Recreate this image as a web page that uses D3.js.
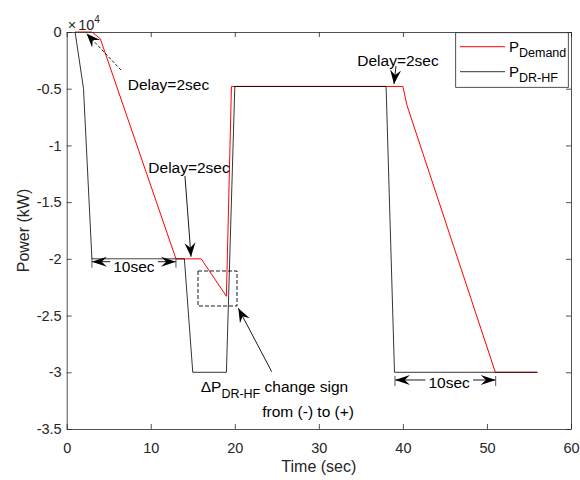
<!DOCTYPE html>
<html>
<head>
<meta charset="utf-8">
<script src="https://cdn.jsdelivr.net/npm/d3@7"></script>
<style>
body { margin: 0; background: #fff; }
text { font-family: "Liberation Sans", Arial, Helvetica, sans-serif; }
</style>
</head>
<body>
<div id="my_dataviz"></div>
<script>
// time (sec) / power (kW)
var timeDemand  = [1, 3, 4, 13, 16, 19, 19.6, 40, 40.5, 51, 56];
var powerDemand = [0, 0, -600, -20000, -20000, -23300, -4800, -4800, -6500, -30000, -30000];
var timeDRHF  = [1, 2, 3, 14, 15, 19, 20, 38, 39, 56];
var powerDRHF = [0, -5000, -20000, -20000, -30000, -30000, -4800, -4800, -30000, -30000];

var xTicks = [0, 10, 20, 30, 40, 50, 60];
var yTicks = [0, -5000, -10000, -15000, -20000, -25000, -30000, -35000];
var yTickLabels = ["0", "-0.5", "-1", "-1.5", "-2", "-2.5", "-3", "-3.5"];
var seriesNames = ["Demand", "DR-HF"];

var W = 580, H = 480;
var margin = {top: 32, right: 9, bottom: 51, left: 66.7};
var axisColor = "#262626";

var svg = d3.select("#my_dataviz")
  .append("svg")
    .attr("width", W)
    .attr("height", H);

var x = d3.scaleLinear().domain([0, 60]).range([margin.left, W - margin.right]);
var y = d3.scaleLinear().domain([-35000, 0]).range([H - margin.bottom, margin.top]);

// lines (demand first, DR-HF drawn on top)
var line = d3.line()
  .x(function(d) { return x(d[0]); })
  .y(function(d) { return y(d[1]); });

svg.append("path")
  .datum(d3.zip(timeDemand, powerDemand))
  .attr("fill", "none")
  .attr("stroke", "#ff0000")
  .attr("stroke-width", 1)
  .attr("d", line);

svg.append("path")
  .datum(d3.zip(timeDRHF, powerDRHF))
  .attr("fill", "none")
  .attr("stroke", "#000")
  .attr("stroke-width", 0.8)
  .attr("d", line);

// axes, ticks inside like matlab
function styleAxis(g) {
  g.select(".domain").attr("stroke", axisColor).attr("stroke-width", 0.8);
  g.selectAll(".tick line").attr("stroke", axisColor).attr("stroke-width", 0.8);
  g.selectAll(".tick text").attr("fill", axisColor).style("font-size", "14.5px")
    .style("font-family", '"Liberation Sans", Arial, sans-serif');
}

svg.append("g")
  .attr("transform", "translate(0," + y(-35000) + ")")
  .call(d3.axisBottom(x).tickValues(xTicks).tickSizeInner(-5).tickSizeOuter(0).tickPadding(14))
  .call(styleAxis);

svg.append("g")
  .attr("transform", "translate(0," + y(0) + ")")
  .call(d3.axisTop(x).tickValues(xTicks).tickSizeInner(-5).tickSizeOuter(0).tickFormat(""))
  .call(styleAxis);

svg.append("g")
  .attr("transform", "translate(" + x(0) + ",0)")
  .call(d3.axisLeft(y).tickValues(yTicks).tickSizeInner(-5).tickSizeOuter(0).tickPadding(5)
    .tickFormat(function(d, i) { return yTickLabels[i]; }))
  .call(styleAxis);

svg.append("g")
  .attr("transform", "translate(" + x(60) + ",0)")
  .call(d3.axisRight(y).tickValues(yTicks).tickSizeInner(-5).tickSizeOuter(0).tickFormat(""))
  .call(styleAxis);

// exponent label
var expo = svg.append("text")
  .attr("x", x(0) + 1)
  .attr("y", y(0) - 2)
  .attr("fill", axisColor)
  .style("font-size", "14.5px");
expo.append("tspan").text("\u00d7");
expo.append("tspan").text("10").attr("dx", 2);
expo.append("tspan").text("4").attr("dy", -7).style("font-size", "10px");

// axis labels
svg.append("text")
  .attr("x", (x(0) + x(60)) / 2)
  .attr("y", 472)
  .attr("text-anchor", "middle")
  .attr("fill", axisColor)
  .style("font-size", "16px")
  .text("Time (sec)");

svg.append("text")
  .attr("transform", "translate(29," + ((y(0) + y(-35000)) / 2) + ") rotate(-90)")
  .attr("text-anchor", "middle")
  .attr("fill", axisColor)
  .style("font-size", "16px")
  .text("Power (kW)");

// annotations
var ann = svg.append("g");

function head(x1, y1, x2, y2, len, hw) {
  var dx = x2 - x1, dy = y2 - y1, L = Math.sqrt(dx * dx + dy * dy);
  var ux = dx / L, uy = dy / L, nx = -uy, ny = ux;
  var bx = x2 - ux * len, by = y2 - uy * len;
  var mx = x2 - ux * len * 0.65, my = y2 - uy * len * 0.65;
  ann.append("path")
    .attr("d", "M" + x2 + "," + y2 +
      "L" + (bx + nx * hw) + "," + (by + ny * hw) +
      "L" + mx + "," + my +
      "L" + (bx - nx * hw) + "," + (by - ny * hw) + "Z")
    .attr("fill", "#000");
}

function arrow(t1, v1, t2, v2, dashed) {
  var x1 = x(t1), y1 = y(v1), x2 = x(t2), y2 = y(v2);
  ann.append("line")
    .attr("x1", x1).attr("y1", y1).attr("x2", x2).attr("y2", y2)
    .attr("stroke", "#000").attr("stroke-width", 0.9)
    .attr("stroke-dasharray", dashed ? "3,2" : null);
  head(x1, y1, x2, y2, 14, 5.5);
}

function label(t, v, txt, anchor) {
  return ann.append("text")
    .attr("x", x(t)).attr("y", y(v))
    .attr("text-anchor", anchor || "start")
    .attr("fill", "#000")
    .style("font-size", "15.5px")
    .text(txt);
}

function span(t1, t2, v, tText, vText) {
  var x1 = x(t1), x2 = x(t2), yy = y(v);
  ann.append("line").attr("x1", x1).attr("x2", x2).attr("y1", yy).attr("y2", yy)
    .attr("stroke", "#000").attr("stroke-width", 0.9);
  head(x2, yy, x1, yy, 15, 5);
  head(x1, yy, x2, yy, 15, 5);
  [x1, x2].forEach(function(xx) {
    ann.append("line").attr("x1", xx).attr("x2", xx).attr("y1", yy - 4).attr("y2", yy + 6)
      .attr("stroke", "#555").attr("stroke-width", 1);
  });
  var t = label(tText, vText, "10sec", "middle");
  var bb = t.node().getBBox();
  ann.insert("rect", function() { return t.node(); })
    .attr("x", bb.x - 3).attr("y", yy - 2).attr("width", bb.width + 6).attr("height", bb.y + bb.height - yy + 2)
    .attr("fill", "#fff");
}

arrow(6.46, -3350, 2.36, -132, true);
label(7.26, -5113, "Delay=2sec");

label(9.71, -12430, "Delay=2sec");
arrow(14.07, -12695, 14.79, -19810, false);

label(34.57, -2997, "Delay=2sec");
arrow(39.18, -2997, 38.94, -4584, false);

span(3, 13, -20250, 8.0, -21130);
span(39.06, 51.04, -30680, 45.5, -31385);

ann.append("rect")
  .attr("x", x(15.62)).attr("y", y(-21070))
  .attr("width", x(20.26) - x(15.62)).attr("height", y(-24156) - y(-21070))
  .attr("fill", "none").attr("stroke", "#000").attr("stroke-width", 0.9)
  .attr("stroke-dasharray", "4,2");

arrow(24.39, -29948, 20.42, -24359, false);

var dp = label(15.94, -31711, "");
dp.append("tspan").text("\u0394P");
dp.append("tspan").text("DR-HF").attr("dy", 6).style("font-size", "12.5px");
dp.append("tspan").text(" change sign").attr("dy", -6);
label(34.18, -33941, "from (-) to (+)", "end");

// legend
var lg = svg.append("g");
lg.append("rect")
  .attr("x", 455.7).attr("y", 32.7).attr("width", 112.6).attr("height", 54.6)
  .attr("fill", "#fff").attr("stroke", axisColor).attr("stroke-width", 0.8);
var lgColors = ["#ff0000", "#000"];
seriesNames.forEach(function(s, i) {
  var ly = 46.7 + i * 25;
  lg.append("line").attr("x1", 460).attr("x2", 505).attr("y1", ly).attr("y2", ly)
    .attr("stroke", lgColors[i]).attr("stroke-width", i == 0 ? 1 : 0.8);
  var t = lg.append("text").attr("x", 509).attr("y", ly + 5)
    .attr("fill", "#000").style("font-size", "15px");
  t.append("tspan").text("P");
  t.append("tspan").text(s).attr("dy", 5).style("font-size", "12.5px");
});
</script>
</body>
</html>
